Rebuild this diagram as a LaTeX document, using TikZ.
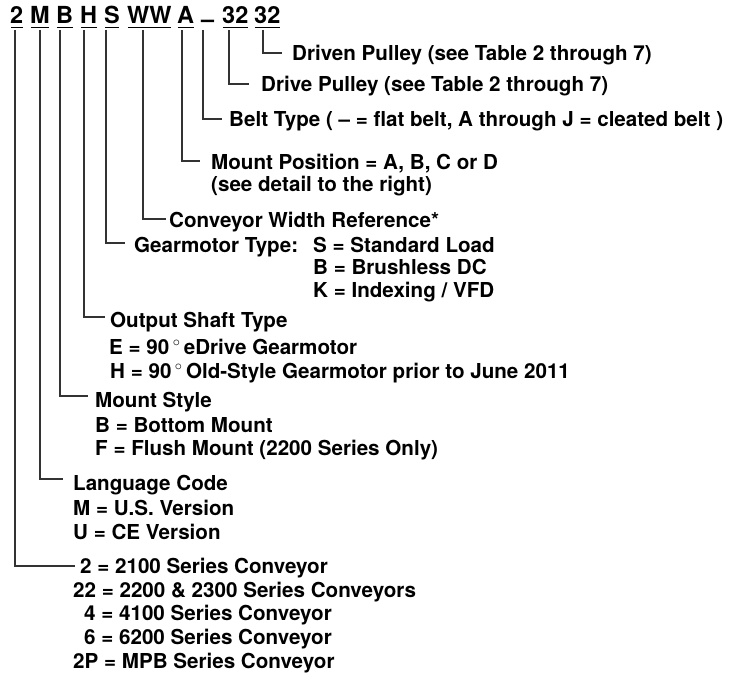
\documentclass[tikz,border=0pt]{standalone}
\usepackage{fontspec}
\setmainfont{TeX Gyre Heros}
\begin{document}
\begin{tikzpicture}[x=1pt,y=-1pt,
  lbl/.style={inner sep=0pt, anchor=base west, font=\fontsize{20.6}{24}\selectfont\bfseries, text height=14pt, text depth=0pt},
  code/.style={inner sep=0pt, anchor=base west, font=\fontsize{23.5}{23.5}\selectfont\bfseries, text height=16pt, text depth=0pt},
  conn/.style={draw=black!80, line width=1.1pt},
  uline/.style={draw=black, line width=1.6pt}]
\useasboundingbox (0,0) rectangle (729,677);

% top code
\node[code] (c2)  at (10,24) {2};
\node[code] (cM)  at (30,24) {M};
\node[code] (cB)  at (56,24) {B};
\node[code] (cH)  at (80,24) {H};
\node[code] (cS)  at (104,24) {S};
\node[code] (cW)  at (127,24) {WW};
\node[code] (cA)  at (177,24) {A};
\node[code] (cD)  at (201,24) {\raisebox{-3.5pt}{–}};
\node[code] (c3a) at (222,24) {32};
\node[code] (c3b) at (254,24) {32};
\foreach \n in {c2,cM,cB,cH,cS,cW,cA,c3a,c3b}
  \draw[uline] ([yshift=-3.5pt,xshift=0.8pt]\n.south west) -- ([yshift=-3.5pt,xshift=-0.8pt]\n.south east);

% tops of connectors
\coordinate (t2)  at (15,30);
\coordinate (tM)  at (40,30);
\coordinate (tB)  at (60,30);
\coordinate (tH)  at (84,30);
\coordinate (tS)  at (106,30);
\coordinate (tW)  at (143,30);
\coordinate (tA)  at (182,30);
\coordinate (tD)  at (203,30);
\coordinate (t3a) at (229,30);
\coordinate (t3b) at (263,30);

% labels
\node[lbl] (L1) at (292,61) {Driven Pulley (see Table 2 through 7)};
\node[lbl] (L2) at (261,92) {Drive Pulley (see Table 2 through 7)};
\node[lbl] (L3) at (229,127) {Belt Type ( – = flat belt, A through J = cleated belt )};
\node[lbl] (L4) at (211,169) {Mount Position = A, B, C or D};
\node[lbl] (L4b) at (211,191) {(see detail to the right)};
\node[lbl] (L5) at (169,227) {Conveyor Width Reference*};
\node[lbl] (L6) at (134,252) {Gearmotor Type:};
\node[lbl] (L6a) at (313,252) {S = Standard Load};
\node[lbl] (L6b) at (313,274) {B = Brushless DC};
\node[lbl] (L6c) at (313,297) {K = Indexing / VFD};
\node[lbl] (L7) at (110,327) {Output Shaft Type};
\node[lbl] (L7a) at (109,354) {E = 90\,$^\circ$\,eDrive Gearmotor};
\node[lbl] (L7b) at (110,378) {H = 90\,$^\circ$\,Old-Style Gearmotor prior to June 2011};
\node[lbl] (L8) at (95,407) {Mount Style};
\node[lbl] (L8a) at (95,432) {B = Bottom Mount};
\node[lbl] (L8b) at (95,455) {F = Flush Mount (2200 Series Only)};
\node[lbl] (L9) at (73,490) {Language Code};
\node[lbl] (L9a) at (73,515) {M = U.S. Version};
\node[lbl] (L9b) at (73,539) {U = CE Version};
\node[lbl] (L10) at (80,573) {2 = 2100 Series Conveyor};
\node[lbl] (L10a) at (73,597) {22 = 2200 \& 2300 Series Conveyors};
\node[lbl] (L10b) at (84,620) {4 = 4100 Series Conveyor};
\node[lbl] (L10c) at (84,644) {6 = 6200 Series Conveyor};
\node[lbl] (L10d) at (73,668) {2P = MPB Series Conveyor};

% connectors
\draw[conn] (t3b) |- ([xshift=-10pt,yshift=1pt]L1.west);
\draw[conn] (t3a) |- ([xshift=-12pt,yshift=1pt]L2.west);
\draw[conn] (tD)  |- ([xshift=-7pt,yshift=1pt]L3.west);
\draw[conn] (tA)  |- ([xshift=-11pt,yshift=1pt]L4.west);
\draw[conn] (tW)  |- ([xshift=-3pt,yshift=1pt]L5.west);
\draw[conn] (tS)  |- ([xshift=-9pt,yshift=2pt]L6.west);
\draw[conn] (tH)  |- ([xshift=-5pt,yshift=3pt]L7.west);
\draw[conn] (tB)  |- ([xshift=-7pt,yshift=4pt]L8.west);
\draw[conn] (tM)  |- ([xshift=-10pt,yshift=4pt]L9.west);
\draw[conn] (t2)  |- ([xshift=-5pt,yshift=0pt]L10.west);
\end{tikzpicture}
\end{document}
